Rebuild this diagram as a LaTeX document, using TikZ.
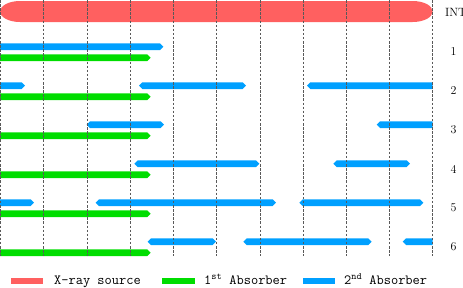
\documentclass[tikz,border=0pt]{standalone}
\usepackage{tikz}
\usetikzlibrary{arrows.meta,positioning}
\definecolor{srcR}{HTML}{FF6060}
\definecolor{absG}{HTML}{00DD00}
\definecolor{absB}{HTML}{00A0FF}
% one absorber bar with pointed ends: colour, y, from, to
\newcommand{\absbar}[4]{%
  \fill[#1] ({#3},{#2}) -- ({#3+3.3},{#2-3.3}) -- ({#4-3.3},{#2-3.3}) -- ({#4},{#2})
    -- ({#4-3.3},{#2+3.3}) -- ({#3+3.3},{#2+3.3}) -- cycle;}

\begin{document}
\begin{tikzpicture}[x=1pt,y=-1pt,every node/.style={font=\fontsize{12}{14}\selectfont,inner sep=0pt},
    legtext/.style={font=\ttfamily\fontsize{14}{16}\selectfont,anchor=base west},
    grid/.style={gray!70!black,line width=0.5pt,dash pattern=on 2.5pt off 1.6pt}]
  \useasboundingbox (0,0) rectangle (463,287);
  % source and absorbers, cut at the last grid line
  \begin{scope}
    \clip (0,-2) rectangle (432.7,260);
    \fill[srcR] (20,1) -- (412.7,1) arc[start angle=90,end angle=-90,x radius=20pt,y radius=10.5pt]
      -- (20,22) arc[start angle=270,end angle=90,x radius=20pt,y radius=10.5pt] -- cycle;
    \foreach \r in {1,...,6}{
      \pgfmathsetmacro{\yg}{18.7+39*\r}
      \absbar{absG}{\yg}{-5}{150.7}}
    \foreach \r/\a/\b in {1/-5/163.3, 2/-5/25, 2/139/246, 2/307/440,
        3/86.7/164, 3/376.7/440, 4/134.3/259.3, 4/333.3/410,
        5/-5/34, 5/95.7/276, 5/299.3/423.3,
        6/147.7/216, 6/243.3/371.7, 6/402.7/440}{
      \pgfmathsetmacro{\yb}{7.7+39*\r}
      \absbar{absB}{\yb}{\a}{\b}}
  \end{scope}
  % grid
  \foreach \i in {0,...,10}
    \draw[grid] ({0.4+43.23*\i},0) -- ({0.4+43.23*\i},256);
  % row labels
  \node[anchor=west] (lint) at (445,12) {INT};
  \foreach \r in {1,...,6}
    \node (lab\r) at (453.5,{13+39*\r}) {\r};
  % legend
  \fill[srcR] (11,277.7) rectangle (43.3,284.3);
  \node[legtext] (legsrc) at (54,284.3) {X-ray source};
  \fill[absG] (162,277.7) rectangle (195,284.3);
  \node[legtext] (legfirst) at (204,284.3) {1\textsuperscript{st} Absorber};
  \fill[absB] (302.7,277.7) rectangle (335,284.3);
  \node[legtext] (legsecond) at (344,284.3) {2\textsuperscript{nd} Absorber};
\end{tikzpicture}
\end{document}
